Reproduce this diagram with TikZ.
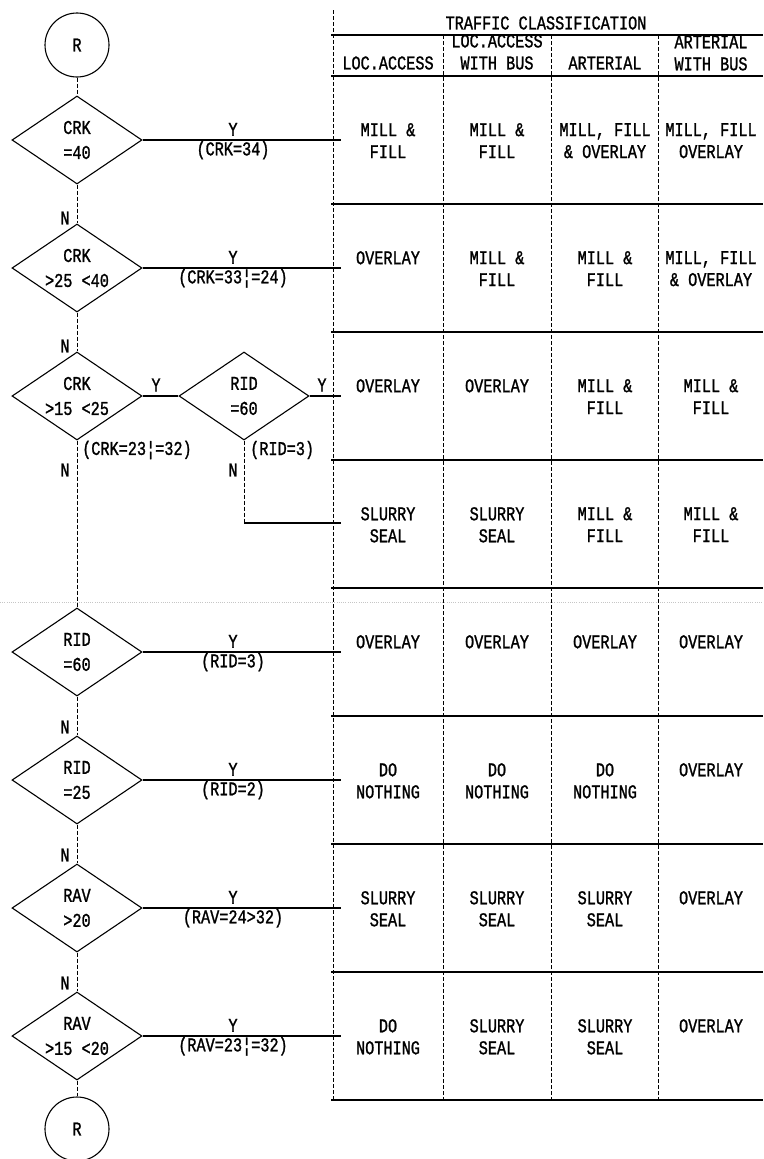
\documentclass[tikz,border=0pt]{standalone}
\usepackage{fontspec}
\newfontfamily\plotfont[FakeStretch=0.78, FakeBold=1.2]{Liberation Mono}
\usetikzlibrary{shapes.geometric}

\begin{document}
\begin{tikzpicture}[x=1pt, y=-1pt, font=\plotfont\fontsize{19.5}{22}\selectfont,
    test/.style={draw, line width=1.1pt, diamond, aspect=1.48, minimum width=130pt, minimum height=88pt,
                 inner sep=0pt, align=center, font=\plotfont\fontsize{19.5}{25}\selectfont},
    conn/.style={draw, line width=1.1pt, circle, minimum size=64pt, inner sep=0pt},
    noline/.style={line width=1pt, dash pattern=on 4pt off 2pt},
    yesline/.style={line width=1.2pt},
    cell/.style={anchor=north, align=center, inner sep=0pt},
    lab/.style={inner sep=1pt}]
    \useasboundingbox (0,0) rectangle (763,1159);

    % scan seam
    \draw[gray!45, dotted, very thin] (0,602) -- (763,602);

    \node[conn] (r1) at (77,45) {R};
    \node[conn] (r2) at (77,1129) {R};

    \foreach \n/\y/\t in {d1/140/{CRK\\=40}, d2/268/{CRK\\>25 <40}, d3/396/{CRK\\>15 <25},
                          d4/652/{RID\\=60}, d5/780/{RID\\=25}, d6/908/{RAV\\>20}, d7/1036/{RAV\\>15 <20}}
        \node[test] (\n) at (77,\y) {\t};
    \node[test] (rid) at (244,396) {RID\\=60};

    % N branches
    \foreach \a/\b in {r1/d1, d1/d2, d2/d3, d3/d4, d4/d5, d5/d6, d6/d7, d7/r2}
        \draw[noline] (\a.south) -- (\b.north);
    \foreach \p/\q [count=\k] in {65/218, 65/346, 65/470, 65/727, 65/855, 65/983, 233/470}
        \node[lab] (n\k) at (\p,\q) {N};

    % Y branches
    \foreach \n/\y/\t in {d1/140/{(CRK=34)}, d2/268/{(CRK=33¦=24)}, d4/652/{(RID=3)},
                          d5/780/{(RID=2)}, d6/908/{(RAV=24>32)}, d7/1036/{(RAV=23¦=32)}} {
        \coordinate (e\n) at (341,\y);
        \draw[yesline] (\n.east) -- (e\n);
        \node[lab, above=3pt] (y\n) at (233,\y) {Y};
        \node[lab, below] (k\n) at (233,\y) {\t};
    }
    \draw[yesline] (d3.east) -- (rid.west);
    \node[lab] (yd3) at (156,385) {Y};
    \node[lab, anchor=west] (kd3) at (81,450) {(CRK=23¦=32)};
    \coordinate (erid) at (341,396);
    \draw[yesline] (rid.east) -- (erid);
    \node[lab] (yrid) at (322,385) {Y};
    \node[lab, anchor=west] (krid) at (249,450) {(RID=3)};
    \coordinate (ridn) at (244,523);
    \coordinate (ridt) at (341,523);
    \draw[noline] (rid.south) -- (ridn);
    \draw[yesline] (ridn) -- (ridt);

    % table
    \draw[noline] (333,10) -- (333,1100);
    \foreach \x in {443,551,658}
        \draw[noline] (\x,35) -- (\x,1100);
    \foreach \y in {35,76,204,332,460,588,716,844,972,1100}
        \draw[yesline] (331,\y) -- (763,\y);

    \node (title) at (546,23) {TRAFFIC CLASSIFICATION};
    \node (h1) at (388,63) {LOC.ACCESS};
    \node[align=center] (h2) at (497,52) {LOC.ACCESS\\WITH BUS};
    \node (h3) at (605,63) {ARTERIAL};
    \node[align=center] (h4) at (711,53) {ARTERIAL\\WITH BUS};

    \foreach \r/\ta/\tb/\tc/\td in {
        0/{MILL \&\\FILL}/{MILL \&\\FILL}/{MILL, FILL\\\& OVERLAY}/{MILL, FILL\\OVERLAY},
        1/{OVERLAY}/{MILL \&\\FILL}/{MILL \&\\FILL}/{MILL, FILL\\\& OVERLAY},
        2/{OVERLAY}/{OVERLAY}/{MILL \&\\FILL}/{MILL \&\\FILL},
        3/{SLURRY\\SEAL}/{SLURRY\\SEAL}/{MILL \&\\FILL}/{MILL \&\\FILL},
        4/{OVERLAY}/{OVERLAY}/{OVERLAY}/{OVERLAY},
        5/{DO\\NOTHING}/{DO\\NOTHING}/{DO\\NOTHING}/{OVERLAY},
        6/{SLURRY\\SEAL}/{SLURRY\\SEAL}/{SLURRY\\SEAL}/{OVERLAY},
        7/{DO\\NOTHING}/{SLURRY\\SEAL}/{SLURRY\\SEAL}/{OVERLAY}} {
        \node[cell] (c\r-1) at (388,{140+128*\r-17}) {\ta};
        \node[cell] (c\r-2) at (497,{140+128*\r-17}) {\tb};
        \node[cell] (c\r-3) at (605,{140+128*\r-17}) {\tc};
        \node[cell] (c\r-4) at (711,{140+128*\r-17}) {\td};
    }
\end{tikzpicture}
\end{document}
